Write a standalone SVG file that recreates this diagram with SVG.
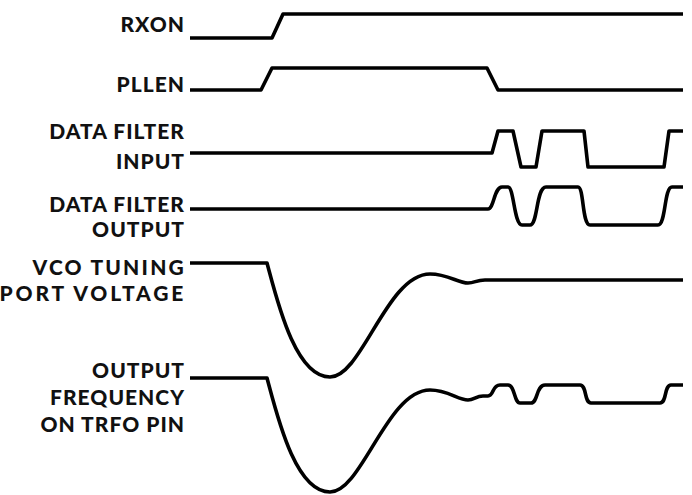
<svg xmlns="http://www.w3.org/2000/svg" width="692" height="495" viewBox="0 0 692 495">
<style>
.lbl{font-family:Lato,"Open Sans","Liberation Sans",sans-serif;font-weight:900;font-size:21px;letter-spacing:1px;fill:#111;text-anchor:end}
.wide{letter-spacing:2.2px}
.wider{letter-spacing:2.8px}
.sig{fill:none;stroke:#000;stroke-width:3.6;stroke-linejoin:round;stroke-linecap:butt}
</style>
<rect width="692" height="495" fill="#fff"/>
<g id="rxon">
<text class="lbl" x="185" y="32">RXON</text>
</g>
<g id="pllen">
<text class="lbl" x="185" y="92">PLLEN</text>
</g>
<g id="dfin">
<text class="lbl" x="185" y="139">DATA FILTER</text>
<text class="lbl" x="185" y="169">INPUT</text>
</g>
<g id="dfout">
<text class="lbl" x="185" y="212">DATA FILTER</text>
<text class="lbl" x="185" y="237">OUTPUT</text>
</g>
<g id="vco">
<text class="lbl wide" x="186" y="275">VCO TUNING</text>
<text class="lbl wider" x="186" y="301">PORT VOLTAGE</text>
</g>
<g id="trfo">
<text class="lbl" x="185" y="378">OUTPUT </text>
<text class="lbl" x="185" y="405">FREQUENCY</text>
<text class="lbl" x="185" y="432">ON TRFO PIN</text>
</g>
<g id="connectors">
<path class="sig" d="M190,38 H272 L283,14 H683"/>
<path class="sig" d="M190,90 H261 L272,68 H487 L498,90 H683"/>
<path class="sig" d="M190,153 H492 L498,131 H513 L521,167 H536 L542,131 H584 L588,167 H664 L669,131 H683"/>
<path class="sig" d="M190,209 H488 C494,209 494,187 502,187 H508 C514,187 514,225 522,225 H530 C538,225 536,187 546,187 H578 C584,187 582,225 590,225 H658 C666,225 664,187 672,187 H683"/>
<path class="sig" d="M190,263 H267 C277,300 295,377 330,377 C362,377 387,274 430,274 C448,274 458,283 468,283 C475,283 476,280 485,280 H683"/>
<path class="sig" d="M190,378 H267 C277,415 295,492 330,492 C362,492 387,390 430,390 C448,390 458,400 468,400 C474,400 476,396 483,396 H488 C494,396 492,385 500,385 H508 C515,385 514,403 520,403 H531 C538,403 536,385 545,385 H580 C587,385 584,403 591,403 H660 C667,403 664,385 671,385 H683"/>
</g>
</svg>
